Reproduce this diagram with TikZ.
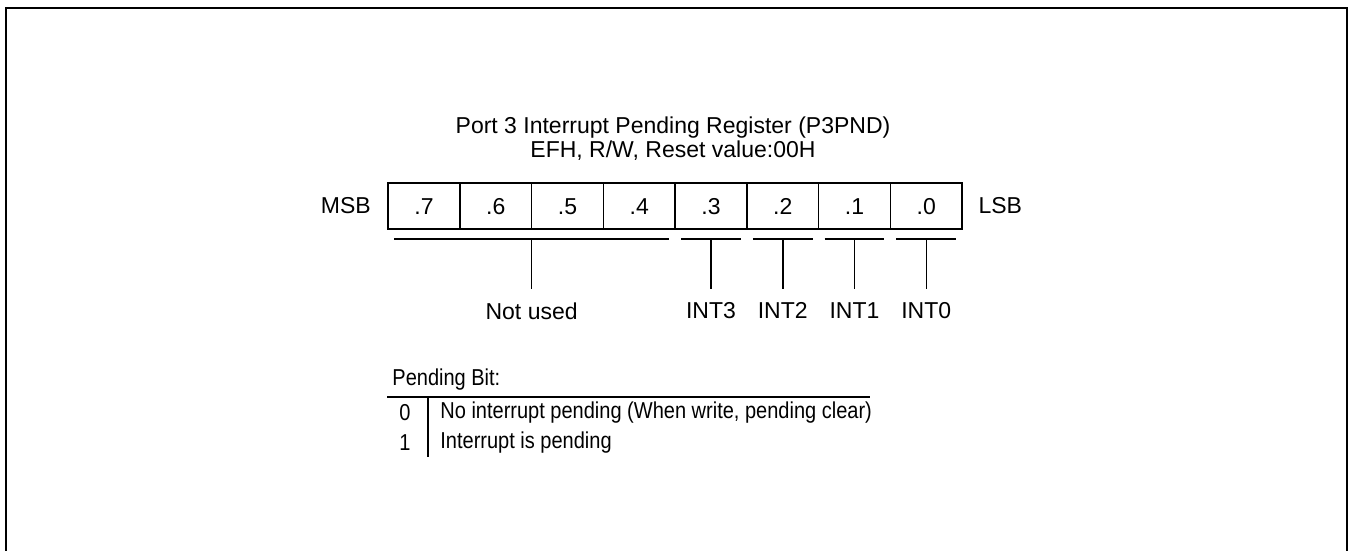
\documentclass[tikz,border=0pt]{standalone}
\usepackage{fontspec}
\setmainfont{Liberation Sans}
\newfontfamily\narrowfont[FakeStretch=0.87]{Liberation Sans}
\usepackage{tikz}
\usetikzlibrary{positioning}

\begin{document}
\begin{tikzpicture}[
        x=0.5pt, y=-0.5pt,
        txt/.style={inner sep=0pt, font=\fontsize{11.5}{12}\selectfont},
        cell/.style={txt, rectangle, draw, line width=0.75pt, outer sep=0pt, minimum width=35.875pt, minimum height=23pt, text height=8.2pt, text depth=0pt},
        lbl/.style={txt},
        tbl/.style={inner sep=0pt, font=\narrowfont\fontsize{11.5}{12}\selectfont},
        line/.style={line width=0.75pt},
        frame/.style={line width=1.15pt},
    ]
        \useasboundingbox (0,0) rectangle (1355,551);
        \draw[frame] (6,553) |- (1347,8) -- (1347,553);

        % Title
        \node[txt, align=center] (title) at (673,139) {Port 3 Interrupt Pending Register (P3PND)\\EFH, R/W, Reset value:00H};

        % Register cells
        \node[cell] (b7) at (424,206) {.7};
        \foreach \i [remember=\i as \prev (initially 7)] in {6,5,...,0}
            \node[cell, right=0pt of b\prev] (b\i) {.\i};
        \node[lbl, left=8.5pt of b7] (msb) {MSB};
        \node[lbl, right=8pt of b0] (lsb) {LSB};

        % Bit groups
        \node[lbl, below=36.5pt of b6.south east] (nu) {Not used};
        \draw[line] ([xshift=3pt,yshift=-5pt]b7.south west) -- ([xshift=-3pt,yshift=-5pt]b4.south east);
        \draw[line] ([yshift=-5pt]b6.south east) -- ([yshift=6.5pt]nu.north);
        \foreach \i in {3,2,1,0} {
            \node[lbl, below=36.5pt of b\i.south] (int\i) {INT\i};
            \draw[line] ([xshift=3pt,yshift=-5pt]b\i.south west) -- ([xshift=-3pt,yshift=-5pt]b\i.south east);
            \draw[line] ([yshift=-5pt]b\i.south) -- ([yshift=6.5pt]int\i.north);
        }

        % Pending bit table
        \node[tbl, anchor=west] (pb) at (392,380) {Pending Bit:};
        \draw[line] (387,397) -- (870,397);
        \draw[line] (428,397) -- (428,457);
        \node[tbl] (v0) at (405,413) {0};
        \node[tbl] (v1) at (405,443) {1};
        \node[tbl, anchor=west] (t0) at (440,413) {No interrupt pending (When write, pending clear)};
        \node[tbl, anchor=west] (t1) at (440,443) {Interrupt is pending};
    \end{tikzpicture}
\end{document}
